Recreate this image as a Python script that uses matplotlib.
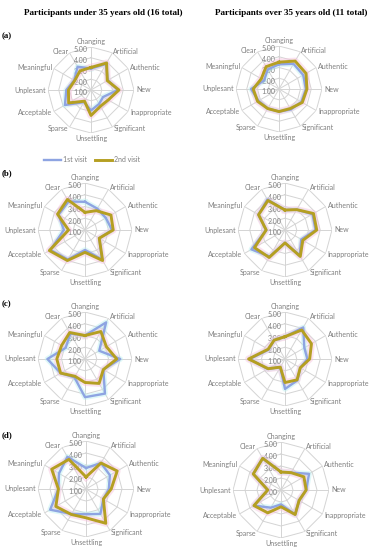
import numpy as np
import matplotlib
matplotlib.use("Agg")
import matplotlib.pyplot as plt
from matplotlib.lines import Line2D

categories = ["Changing", "Artificial", "Authentic", "New", "Inappropriate",
              "Significant", "Unsettling", "Sparse", "Acceptable", "Unplesant",
              "Meaningful", "Clear"]
radial_ticks = [1, 2, 3, 4, 5]
series_names = ["1st visit", "2nd visit"]

# (a) under 35 / over 35
a_young_v1 = [3.0, 3.8, 2.8, 3.5, 2.3, 2.5, 2.9, 2.3, 3.8, 3.3, 2.8, 3.5]
a_young_v2 = [3.1, 3.9, 2.75, 3.6, 2.85, 2.75, 3.37, 2.2, 3.4, 3.1, 2.75, 3.05]
a_old_v1 = [3.3, 3.7, 3.6, 3.5, 3.4, 3.2, 3.1, 3.1, 3.2, 3.6, 2.6, 3.1]
a_old_v2 = [3.5, 4.0, 3.9, 3.6, 3.5, 3.1, 3.1, 3.1, 3.3, 3.4, 2.9, 3.4]
# (b)
b_young_v1 = [3.4, 3.1, 3.05, 3.3, 2.4, 3.9, 2.7, 3.9, 4.4, 2.8, 3.6, 3.8]
b_young_v2 = [2.5, 2.9, 3.55, 3.4, 2.4, 4.0, 2.9, 4.0, 4.5, 2.4, 3.7, 4.0]
b_old_v1 = [2.7, 3.0, 3.7, 3.6, 2.6, 3.5, 2.1, 3.6, 4.3, 2.6, 3.6, 4.0]
b_old_v2 = [2.7, 3.0, 3.8, 3.7, 2.75, 3.6, 2.1, 3.7, 4.0, 2.6, 3.6, 3.9]
# (c)
c_young_v1 = [3.0, 4.6, 2.4, 4.0, 2.8, 4.4, 4.25, 2.8, 3.4, 4.2, 2.9, 3.5]
c_young_v2 = [3.0, 3.7, 3.1, 3.7, 2.8, 3.4, 3.0, 2.7, 3.4, 3.4, 3.3, 3.6]
c_old_v1 = [2.9, 4.1, 2.9, 2.9, 2.5, 3.1, 3.55, 1.8, 2.7, 4.0, 2.6, 2.85]
c_old_v2 = [2.9, 3.85, 3.6, 3.1, 2.5, 3.05, 3.0, 1.8, 2.65, 4.1, 2.66, 2.85]
# (d)
d_young_v1 = [2.75, 3.5, 3.3, 2.9, 2.67, 3.4, 3.1, 3.4, 4.45, 3.3, 3.6, 4.1]
d_young_v2 = [2.0, 3.5, 4.0, 3.1, 2.67, 4.3, 3.4, 3.45, 3.9, 3.3, 4.3, 3.85]
d_old_v1 = [2.5, 2.67, 3.7, 3.1, 2.74, 3.36, 2.2, 2.7, 3.6, 2.1, 3.67, 4.05]
d_old_v2 = [2.5, 2.67, 3.2, 3.1, 2.74, 3.36, 2.4, 3.2, 3.6, 2.1, 3.67, 4.05]

panels = [
    ("(a)", a_young_v1, a_young_v2, a_old_v1, a_old_v2),
    ("(b)", b_young_v1, b_young_v2, b_old_v1, b_old_v2),
    ("(c)", c_young_v1, c_young_v2, c_old_v1, c_old_v2),
    ("(d)", d_young_v1, d_young_v2, d_old_v1, d_old_v2),
]

# layout (pixel centres / radii)
W, H = 372, 550
centres = [
    [(91, 90, 43), (279, 89, 43)],
    [(85, 230, 47), (285, 230, 47)],
    [(85, 359, 47), (285, 359, 47)],
    [(86, 489, 48), (281, 490, 48)],
]
label_y = [36, 173, 304, 435]

BLUE = "#8ea4e2"
GOLD = "#b59f22"
GRID = "#d4d4d4"
TXT = "#7f7f7f"
SANS = ["Lato", "DejaVu Sans"]

fig = plt.figure(figsize=(W / 100, H / 100), dpi=100)

n = len(categories)
theta = np.arange(n) * 2 * np.pi / n
theta_c = np.append(theta, theta[0])


def radar(cx, cy, R, v1, v2):
    ax = fig.add_axes([(cx - R) / W, 1 - (cy + R) / H, 2 * R / W, 2 * R / H],
                      projection="polar")
    ax.set_theta_zero_location("N")
    ax.set_theta_direction(-1)
    ax.set_ylim(radial_ticks[0], radial_ticks[-1])
    ax.grid(False)
    ax.spines["polar"].set_visible(False)
    ax.set_xticks([])
    ax.set_yticks([])
    ax.patch.set_alpha(0)
    for k in radial_ticks[1:]:
        ax.plot(theta_c, [k] * (n + 1), color=GRID, lw=0.7, zorder=1)
    for t in theta:
        ax.plot([t, t], [radial_ticks[0], radial_ticks[-1]], color=GRID, lw=0.7, zorder=1)
    for k in radial_ticks:
        ax.annotate(f"{k:.2f}", xy=(0, k), xytext=(-2.5, -2), textcoords="offset points",
                    ha="right", va="center", fontsize=5.0, color=TXT, family=SANS,
                    zorder=2)
    v1c = np.append(v1, v1[0])
    v2c = np.append(v2, v2[0])
    ax.plot(theta_c, v1c, color="#b8f0f0", lw=4.0, alpha=0.45, zorder=3)
    ax.plot(theta_c, v2c, color="#f7c0dc", lw=5.0, alpha=0.45, zorder=3)
    ax.plot(theta_c, v1c, color=BLUE, lw=1.7, zorder=4)
    ax.plot(theta_c, v2c, color=GOLD, lw=2.1, zorder=5)
    for t, lab in zip(theta, categories):
        deg = np.degrees(t) % 360
        if deg < 1 or deg > 359:
            ha, va = "center", "bottom"
        elif abs(deg - 180) < 1:
            ha, va = "center", "top"
        elif deg < 180:
            ha, va = "left", "center"
        else:
            ha, va = "right", "center"
        ax.text(t, 5.18, lab, ha=ha, va=va, fontsize=5.0, color=TXT,
                family=SANS, clip_on=False)
    return ax


for row, (plabel, y1, y2, o1, o2) in enumerate(panels):
    (lx, ly, lr), (rx, ry, rr) = centres[row]
    radar(lx, ly, lr, y1, y2)
    radar(rx, ry, rr, o1, o2)
    fig.text(2 / W, 1 - label_y[row] / H, plabel, ha="left", va="center",
             fontsize=6.4, fontweight="bold", family="Liberation Serif")

fig.text(103 / W, 1 - 13 / H, "Participants under 35 years old (16 total)",
         ha="center", va="center", fontsize=6.6, fontweight="bold",
         family="Liberation Serif")
fig.text(291 / W, 1 - 13 / H, "Participants over 35 years old (11 total)",
         ha="center", va="center", fontsize=6.6, fontweight="bold",
         family="Liberation Serif")

handles = [Line2D([0], [0], color=BLUE, lw=1.7), Line2D([0], [0], color=GOLD, lw=2.1)]
fig.legend(handles, series_names, loc="center", bbox_to_anchor=(92 / W, 1 - 160 / H),
           ncol=2, frameon=False, prop={"family": SANS, "size": 5.0},
           labelcolor=TXT, handlelength=2.4, columnspacing=1.2, handletextpad=0.3)

fig.savefig("out.png", dpi=100)
